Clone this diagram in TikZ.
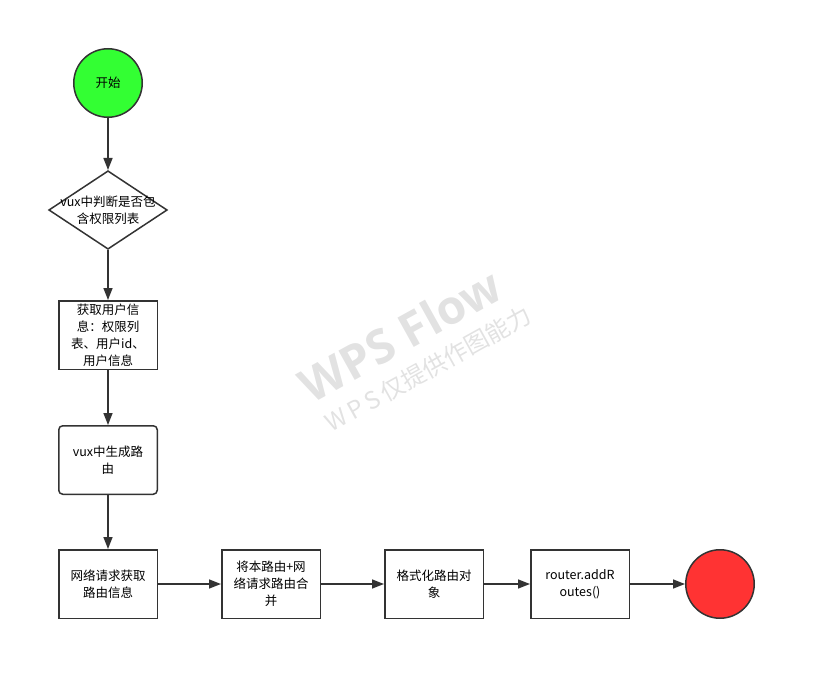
\documentclass[tikz,border=0pt]{standalone}
\usepackage{fontspec}
\setmainfont{Noto Sans CJK SC}
\newfontfamily\wmfont{Open Sans}
\usepackage{tikz}
\usetikzlibrary{positioning, arrows.meta, shapes.geometric}

\definecolor{linegray}{HTML}{333333}
\definecolor{startgreen}{HTML}{33FF33}
\definecolor{endred}{HTML}{FF3333}
\definecolor{wmgray}{HTML}{E2E2E2}

\begin{document}
\begin{tikzpicture}[
  x=1pt, y=-1pt,
  font=\fontsize{12.5}{17}\selectfont,
  line width=1.5pt,
  terminal/.style={draw=linegray, circle, minimum size=68.5pt, inner sep=0pt},
  decision/.style={draw=linegray, diamond, minimum width=118.5pt,
    minimum height=78.5pt, inner sep=0pt},
  box/.style={draw=linegray, minimum width=98.5pt, minimum height=68.5pt,
    align=center, inner sep=2pt},
  flow/.style={draw=linegray, -{Triangle[length=12pt, width=9pt]}},
  watermark/.style={text=wmgray, rotate=29, inner sep=0pt},
]
  \useasboundingbox (0,0) rectangle (817,682);

  % watermark behind everything
  \node[watermark, font=\wmfont\bfseries\fontsize{47}{50}\selectfont] (wmtitle) at (400,335) {WPS Flow};
  \node[watermark, font=\fontsize{24}{28}\selectfont] (wmsub) at (428,369) {W\,P\,S\,仅提供作图能力};

  % vertical chain
  \node[terminal, fill=startgreen] (start) at (108,83) {开始};
  \node[decision, below=52pt of start] (check) {};
  \node[align=center] (checktext) at (check) {vux中判断是否包\\含权限列表};
  \node[box, below=50pt of check] (userinfo) {获取用户信\\息：权限列\\表、用户id、\\用户信息};
  \node[box, rounded corners=4pt, below=55pt of userinfo] (genroute) {vux中生成路\\由};
  \node[box, below=54pt of genroute] (fetch) {网络请求获取\\路由信息};

  % horizontal chain
  \node[box, right=63pt of fetch] (merge) {将本路由+网\\络请求路由合\\并};
  \node[box, right=63pt of merge] (format) {格式化路由对\\象};
  \node[box, right=46pt of format] (addroutes) {router.addR\\outes()};
  \node[terminal, fill=endred, right=55pt of addroutes] (finish) {};

  \draw[flow] (start) -- (check);
  \draw[flow] (check) -- (userinfo);
  \draw[flow] (userinfo) -- (genroute);
  \draw[flow] (genroute) -- (fetch);
  \draw[flow] (fetch) -- (merge);
  \draw[flow] (merge) -- (format);
  \draw[flow] (format) -- (addroutes);
  \draw[flow] (addroutes) -- (finish);
\end{tikzpicture}
\end{document}
